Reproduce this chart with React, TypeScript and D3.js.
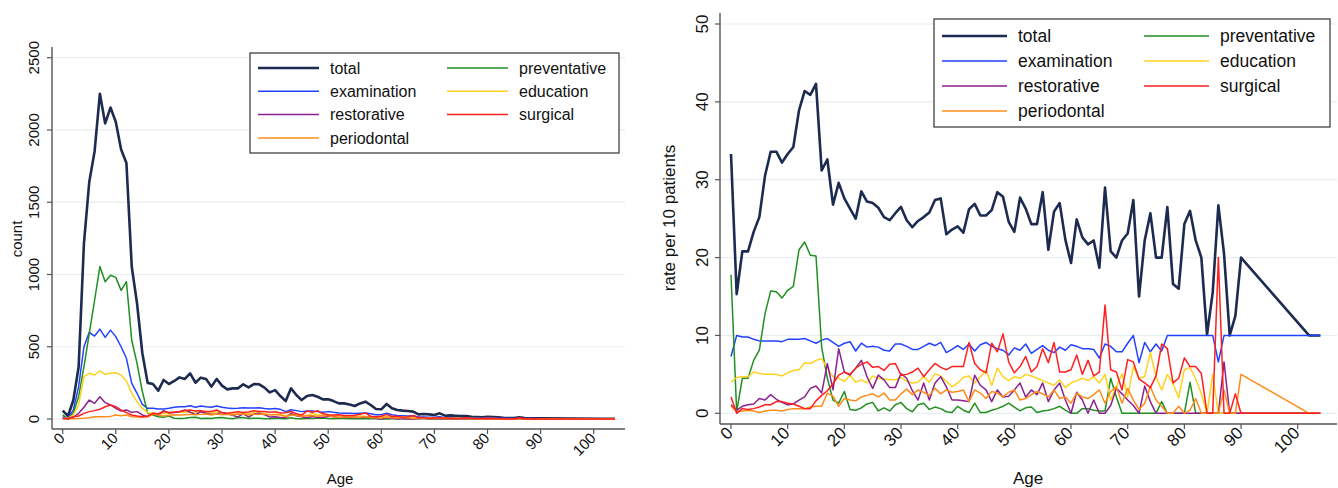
import React from "react";
import * as d3 from "d3";

// ages present in the data (91-101 and 103 are missing)
const ages = [
  0, 1, 2, 3, 4, 5, 6, 7, 8, 9, 10, 11, 12, 13, 14, 15, 16, 17, 18, 19, 20, 21, 22, 23, 24, 25,
  26, 27, 28, 29, 30, 31, 32, 33, 34, 35, 36, 37, 38, 39, 40, 41, 42, 43, 44, 45, 46, 47, 48, 49,
  50, 51, 52, 53, 54, 55, 56, 57, 58, 59, 60, 61, 62, 63, 64, 65, 66, 67, 68, 69, 70, 71, 72, 73,
  74, 75, 76, 77, 78, 79, 80, 81, 82, 83, 84, 85, 86, 87, 88, 89, 90, 102, 104,
];

const seriesNames = ["total", "examination", "restorative", "periodontal", "preventative", "education", "surgical"];
const seriesColors = ["#1c2b4f", "#2342ff", "#8a2190", "#ff8c1a", "#218f21", "#ffd21f", "#ff1f1f"];
const drawOrder = ["total", "examination", "preventative", "education", "restorative", "periodontal", "surgical"];

const xTicks = [0, 10, 20, 30, 40, 50, 60, 70, 80, 90, 100];
const countTicks = [0, 500, 1000, 1500, 2000, 2500];
const rateTicks = [0, 10, 20, 30, 40, 50];

// ---- counts (left panel)
const countTotal = [
  58, 21, 130, 360, 1215, 1640, 1850, 2250, 2045, 2155, 2055, 1865, 1772, 1055, 800, 455, 250, 242, 196, 270,
  242, 263, 288, 277, 316, 251, 286, 277, 224, 277, 231, 205, 212, 212, 240, 219, 242, 240, 217, 184,
  200, 159, 124, 212, 166, 131, 159, 166, 154, 136, 136, 124, 108, 108, 101, 90, 108, 120, 97, 69,
  67, 104, 74, 62, 58, 55, 51, 32, 35, 32, 28, 39, 23, 25, 23, 21, 21, 16, 14, 12,
  16, 14, 12, 9, 7, 7, 12, 7, 5, 5, 5, 2, 2,
];
const countExamination = [
  16, 5, 62, 224, 500, 600, 574, 622, 565, 615, 570, 500, 420, 247, 178, 101, 74, 74, 69, 69,
  74, 81, 85, 85, 92, 81, 90, 85, 81, 90, 81, 76, 72, 74, 78, 76, 76, 78, 72, 69,
  72, 67, 51, 64, 58, 51, 55, 55, 51, 46, 51, 46, 42, 40, 40, 38, 40, 42, 36, 30,
  30, 40, 30, 25, 23, 20, 22, 14, 14, 12, 12, 16, 8, 10, 9, 9, 8, 8, 7, 6,
  8, 7, 6, 5, 4, 4, 3, 4, 3, 3, 2, 1, 1,
];
const countRestorative = [
  3, 3, 12, 39, 81, 131, 108, 154, 113, 97, 74, 55, 62, 46, 51, 28, 16, 39, 28, 58,
  42, 45, 50, 62, 48, 30, 50, 40, 32, 35, 46, 36, 25, 14, 36, 14, 34, 40, 30, 13,
  15, 11, 8, 38, 22, 15, 9, 18, 11, 12, 17, 17, 9, 13, 10, 12, 8, 14, 14, 5,
  0, 11, 6, 0, 4, 0, 0, 2, 6, 3, 2, 1, 0, 4, 1, 0, 0, 0, 0, 0,
  0, 0, 0, 0, 0, 0, 0, 3, 0, 0, 0, 0, 0,
];
const countPeriodontal = [
  2, 1, 2, 4, 6, 9, 16, 16, 16, 18, 28, 23, 28, 16, 14, 12, 16, 32, 30, 20,
  25, 30, 28, 30, 32, 30, 32, 35, 28, 35, 30, 32, 28, 35, 33, 30, 32, 33, 35, 30,
  30, 28, 15, 28, 25, 18, 24, 22, 19, 22, 24, 13, 12, 14, 16, 12, 12, 18, 10, 9,
  6, 14, 9, 7, 8, 9, 4, 5, 6, 2, 5, 3, 1, 2, 4, 2, 1, 0, 0, 1,
  0, 0, 1, 0, 0, 0, 0, 1, 0, 0, 1, 0, 0,
];
const countPreventative = [
  28, 0, 40, 155, 360, 590, 820, 1055, 950, 995, 980, 890, 950, 545, 385, 190, 40, 28, 16, 12,
  21, 5, 4, 6, 10, 12, 3, 6, 3, 9, 11, 5, 2, 8, 10, 4, 6, 5, 2, 1,
  6, 3, 1, 9, 1, 1, 3, 4, 5, 7, 4, 2, 3, 3, 1, 1, 2, 2, 3, 1,
  0, 0, 2, 1, 1, 1, 1, 6, 3, 0, 0, 0, 0, 0, 0, 0, 1, 0, 0, 0,
  0, 1, 0, 0, 0, 0, 0, 0, 0, 0, 0, 0, 0,
];
const countEducation = [
  5, 5, 28, 97, 293, 316, 304, 332, 309, 316, 320, 304, 263, 178, 120, 74, 44, 40, 34, 40,
  36, 48, 46, 48, 45, 46, 50, 46, 40, 50, 42, 35, 34, 36, 44, 34, 46, 42, 38, 27,
  33, 32, 23, 32, 31, 29, 22, 38, 30, 24, 28, 22, 21, 21, 19, 14, 20, 17, 15, 10,
  13, 18, 15, 12, 12, 12, 9, 3, 6, 7, 3, 9, 7, 5, 7, 5, 3, 3, 3, 1,
  4, 3, 2, 1, 0, 1, 0, 0, 0, 0, 0, 0, 0,
];
const countSurgical = [
  5, 0, 16, 21, 39, 51, 58, 67, 85, 97, 85, 62, 44, 28, 21, 16, 21, 39, 36, 51,
  45, 48, 52, 58, 62, 55, 58, 52, 52, 62, 44, 40, 45, 50, 45, 48, 57, 52, 52, 47,
  50, 41, 43, 52, 36, 27, 55, 46, 57, 36, 30, 27, 30, 24, 25, 26, 33, 42, 19, 16,
  19, 32, 17, 19, 12, 16, 24, 9, 9, 4, 8, 9, 7, 4, 3, 5, 8, 5, 3, 3,
  5, 4, 3, 2, 0, 0, 9, 0, 0, 1, 0, 0, 0,
];

// ---- rates per 10 patients (right panel)
const rateTotal = [
  33.3, 15.3, 20.8, 20.8, 23.3, 25.2, 30.5, 33.6, 33.6, 32.2, 33.3, 34.2, 38.9, 41.4, 40.9, 42.3, 31.2, 32.6, 26.8, 29.6,
  27.6, 26.3, 25.0, 28.5, 27.2, 27.0, 26.4, 25.2, 24.8, 25.7, 26.5, 24.8, 23.9, 24.7, 25.2, 25.8, 27.4, 27.6, 23.0, 23.6,
  24.0, 23.2, 26.2, 26.9, 25.4, 25.4, 26.1, 28.4, 27.8, 24.6, 23.3, 27.7, 26.3, 24.3, 24.3, 28.4, 21.0, 25.9, 27.0, 22.3,
  19.3, 24.9, 22.6, 21.7, 22.2, 18.7, 29.0, 20.8, 20.0, 22.2, 23.1, 27.4, 15.0, 22.2, 25.7, 20.0, 20.0, 26.5, 16.6, 16.0,
  24.3, 26.0, 22.2, 20.0, 10.1, 15.5, 26.7, 20.5, 10.0, 12.5, 20.0, 10.0, 10.0,
];
const rateExamination = [
  7.3, 10.0, 9.8, 9.8, 9.5, 9.3, 9.3, 9.3, 9.3, 9.2, 9.5, 9.5, 9.5, 9.6, 9.3, 9.0, 9.4, 9.6, 9.1, 8.6,
  9.0, 9.2, 8.0, 9.0, 8.5, 8.6, 8.5, 8.1, 8.0, 8.9, 8.9, 8.6, 8.2, 8.2, 8.6, 9.0, 8.7, 9.1, 7.8, 8.2,
  8.7, 8.2, 8.9, 8.0, 8.8, 9.1, 8.6, 8.3, 8.1, 7.5, 8.4, 8.1, 8.9, 7.7, 8.2, 8.7, 8.1, 7.8, 8.5, 8.1,
  8.8, 8.6, 8.3, 8.3, 8.2, 7.1, 8.9, 8.6, 7.9, 7.9, 9.0, 10.0, 6.5, 9.1, 7.9, 8.9, 8.0, 10, 10, 10,
  10, 10, 10, 10, 10, 10, 6.6, 10, 10, 10, 10, 10, 10,
];
const rateRestorative = [
  1.1, 0.4, 0.9, 1.1, 1.2, 1.9, 1.7, 2.4, 1.8, 1.4, 1.1, 1.2, 1.7, 2.1, 3.2, 3.5, 2.6, 6.4, 3.0, 8.3,
  5.3, 4.9, 5.8, 6.8, 4.7, 3.2, 4.9, 4.3, 3.3, 3.3, 5.1, 4.5, 2.9, 1.7, 3.9, 1.7, 3.9, 4.7, 3.4, 1.7,
  1.7, 1.6, 1.5, 4.9, 3.6, 3.0, 1.5, 3.0, 2.1, 2.2, 3.0, 3.9, 2.1, 3.0, 2.4, 3.9, 1.5, 3.0, 3.9, 1.7,
  0, 2.7, 1.7, 0, 1.7, 0, 0, 1.0, 3.2, 2.5, 1.7, 1.0, 0, 3.5, 1.5, 0, 0, 0, 0, 0,
  0, 0, 0, 0, 0, 0, 0, 6.6, 0, 0, 0, 0, 0,
];
const ratePeriodontal = [
  0.9, 0.2, 0.3, 0.4, 0.3, 0.1, 0.3, 0.4, 0.4, 0.3, 0.5, 0.6, 0.6, 0.6, 0.8, 0.9, 0.9, 2.6, 2.2, 0.9,
  1.9, 1.7, 1.6, 2.1, 2.3, 2.5, 2.1, 2.6, 1.7, 1.7, 2.5, 3.1, 2.4, 3.0, 2.7, 2.3, 3.2, 2.5, 3.0, 2.7,
  2.8, 3.0, 1.5, 3.0, 2.6, 1.9, 2.8, 2.6, 2.1, 2.7, 3.0, 1.7, 1.9, 2.4, 2.8, 2.5, 2.1, 3.0, 1.9, 2.1,
  1.3, 2.6, 2.1, 1.9, 2.4, 3.0, 1.3, 2.8, 3.4, 1.3, 3.2, 1.7, 0.5, 1.3, 3.4, 1.7, 0.9, 0, 0, 0.9,
  0, 0.4, 1.9, 0, 0, 0, 0, 3.0, 0, 0, 5.0, 0, 0,
];
const ratePreventative = [
  17.8, 0.2, 4.5, 4.5, 6.8, 8.1, 12.8, 15.7, 15.6, 14.8, 15.8, 16.3, 21.0, 22.0, 20.3, 20.2, 8.5, 4.5, 1.7, 1.3,
  2.8, 0.5, 0.4, 0.7, 1.2, 1.4, 0.3, 0.7, 0.3, 1.1, 1.4, 0.6, 0.2, 1.1, 1.3, 0.5, 0.8, 0.6, 0.2, 0.1,
  0.9, 0.4, 0.1, 1.3, 0.1, 0.1, 0.4, 0.6, 0.9, 1.3, 0.8, 0.3, 0.7, 0.8, 0.1, 0.3, 0.4, 0.6, 0.9, 0.4,
  0, 0, 0.6, 0.6, 0.4, 0.3, 0.3, 4.5, 2.1, 0, 0, 0, 0, 0, 0, 0, 1.5, 0, 0, 0,
  0, 4.0, 0, 0, 0, 0, 0, 0, 0, 0, 0, 0, 0,
];
const rateEducation = [
  4.0, 4.6, 4.7, 4.7, 5.3, 5.1, 5.0, 5.0, 5.0, 4.8, 5.2, 5.5, 5.6, 6.5, 6.4, 6.8, 7.0, 5.8, 4.7, 4.5,
  4.1, 4.9, 4.0, 4.3, 3.9, 4.8, 4.5, 4.4, 4.3, 4.3, 4.6, 4.1, 3.9, 4.0, 4.7, 4.0, 5.1, 4.8, 4.1, 3.4,
  3.9, 4.6, 4.8, 3.9, 4.7, 5.6, 3.6, 5.8, 4.7, 4.2, 4.7, 4.5, 5.0, 4.8, 4.5, 4.2, 3.9, 3.6, 4.3, 3.3,
  3.9, 4.2, 4.5, 4.2, 4.7, 3.9, 5.0, 1.7, 3.4, 5.1, 2.1, 6.0, 4.5, 4.7, 7.8, 4.7, 3.0, 5.0, 3.8, 2.0,
  5.6, 5.9, 4.4, 2.5, 0, 5.0, 0, 0, 0, 0, 0, 0, 0,
];
const rateSurgical = [
  2.1, 0, 0.6, 0.5, 0.6, 0.8, 1.1, 1.1, 1.5, 1.5, 1.3, 1.2, 0.9, 0.6, 0.6, 1.6, 2.3, 2.9, 3.8, 4.9,
  5.3, 5.0, 5.8, 6.3, 6.6, 5.9, 6.0, 5.5, 6.3, 6.4, 4.9, 5.0, 5.3, 5.8, 4.7, 5.6, 6.4, 5.9, 5.6, 6.0,
  6.0, 6.0, 9.1, 6.4, 5.6, 5.2, 9.0, 7.9, 10.2, 6.6, 5.2, 6.0, 7.3, 5.3, 6.0, 8.3, 6.5, 9.1, 5.3, 5.3,
  5.6, 7.5, 5.0, 6.8, 4.8, 5.3, 13.9, 5.6, 5.3, 3.0, 6.9, 6.6, 4.4, 3.9, 3.3, 4.8, 8.9, 8.3, 3.9, 4.5,
  7.1, 6.0, 6.0, 5.1, 0, 0, 20.0, 0, 0, 2.5, 0, 0, 0,
];

const countSeries = {
  total: countTotal, examination: countExamination, restorative: countRestorative, periodontal: countPeriodontal,
  preventative: countPreventative, education: countEducation, surgical: countSurgical,
};
const rateSeries = {
  total: rateTotal, examination: rateExamination, restorative: rateRestorative, periodontal: ratePeriodontal,
  preventative: ratePreventative, education: rateEducation, surgical: rateSurgical,
};

const FONT = "'Liberation Sans', Arial, Helvetica, sans-serif";
const colorOf = d3.scaleOrdinal<string, string>().domain(seriesNames).range(seriesColors);

const Panel = ({ g, series, yTicks, yMax, yTitle }) => {
  const x = d3.scaleLinear().domain([0, 100]).range([g.x0, g.x100]);
  const y = d3.scaleLinear().domain([0, yMax]).range([g.y0, g.yTop]);
  const line = (vals) =>
    d3.line<number>().x((_, i) => x(ages[i])).y((v) => y(v))(vals);

  const col1 = seriesNames.slice(0, 4);
  const col2 = seriesNames.slice(4);
  const lg = g.legend;

  return (
    <g fontFamily={FONT}>
      {yTicks.map((t) => (
        <line key={"g" + t} x1={g.left} x2={g.right} y1={y(t)} y2={y(t)} stroke="#e6eef1" strokeWidth={1.2} />
      ))}
      {drawOrder.map((name) => (
        <path key={name} d={line(series[name])} fill="none" stroke={colorOf(name)}
          strokeWidth={name === "total" ? 2.6 : 1.5} strokeLinejoin="round" />
      ))}
      {/* axes */}
      <line x1={g.left} x2={g.left} y1={g.axisTop} y2={g.bottom} stroke="#555" strokeWidth={1.4} />
      <line x1={g.left} x2={g.right} y1={g.bottom} y2={g.bottom} stroke="#555" strokeWidth={1.4} />
      {yTicks.map((t) => (
        <g key={"y" + t}>
          <line x1={g.left - 5} x2={g.left} y1={y(t)} y2={y(t)} stroke="#555" strokeWidth={1.2} />
          <text transform={`translate(${g.yLabelX},${y(t)}) rotate(-90)`} textAnchor="middle"
            fontSize={g.tickFont} fill="#111">{t}</text>
        </g>
      ))}
      {xTicks.map((t) => (
        <g key={"x" + t}>
          <line x1={x(t)} x2={x(t)} y1={g.bottom} y2={g.bottom + 5} stroke="#555" strokeWidth={1.2} />
          <text transform={`translate(${x(t) + g.xLabelDx},${g.bottom + g.xLabelDy}) rotate(-45)`} textAnchor="end"
            fontSize={g.tickFont} fill="#111">{t}</text>
        </g>
      ))}
      <text x={g.ageX} y={484} textAnchor="middle" fontSize={g.titleFont} fill="#111">Age</text>
      <text transform={`translate(${g.yTitleX},${g.yTitleY}) rotate(-90)`} textAnchor="middle"
        fontSize={g.titleFont} fill="#111">{yTitle}</text>
      {/* legend */}
      <rect x={lg.x} y={lg.y} width={lg.w} height={lg.h} fill="#fff" stroke="#333" strokeWidth={1.2} />
      {[col1, col2].map((col, ci) =>
        col.map((name, ri) => {
          const ly = lg.row0 + ri * lg.rowGap;
          const lx = lg.cols[ci];
          return (
            <g key={name}>
              <line x1={lx} x2={lx + lg.sample} y1={ly} y2={ly} stroke={colorOf(name)}
                strokeWidth={name === "total" ? 2.6 : 1.5} />
              <text x={lx + lg.sample + 11} y={ly + lg.font * 0.36} fontSize={lg.font} fill="#111">{name}</text>
            </g>
          );
        })
      )}
    </g>
  );
};

const leftGeom = {
  left: 52, right: 625, axisTop: 47, bottom: 429, yTop: 57.7, y0: 419, x0: 62.7, x100: 593.7,
  tickFont: 15, titleFont: 15, yLabelX: 39, xLabelDx: 3, xLabelDy: 10, ageX: 340, yTitleX: 22, yTitleY: 239,
  legend: { x: 250, y: 53, w: 369, h: 100, cols: [258, 447], sample: 61, row0: 68, rowGap: 23.3, font: 16 },
};
const rightGeom = {
  left: 720, right: 1337, axisTop: 13, bottom: 424, yTop: 24, y0: 413.3, x0: 731, x100: 1297.7,
  tickFont: 17, titleFont: 17, yLabelX: 708, xLabelDx: 3, xLabelDy: 10, ageX: 1028, yTitleX: 675, yTitleY: 218,
  legend: { x: 934, y: 19, w: 396, h: 108, cols: [942, 1144], sample: 65, row0: 36, rowGap: 25, font: 17.5 },
};

export default function App() {
  return (
    <svg width={1338} height={488} style={{ display: "block", position: "absolute", left: 0, top: 0, background: "#fff" }}>
      <rect width={1338} height={488} fill="#fff" />
      <Panel g={leftGeom} series={countSeries} yTicks={countTicks} yMax={2500} yTitle="count" />
      <Panel g={rightGeom} series={rateSeries} yTicks={rateTicks} yMax={50} yTitle="rate per 10 patients" />
    </svg>
  );
}
